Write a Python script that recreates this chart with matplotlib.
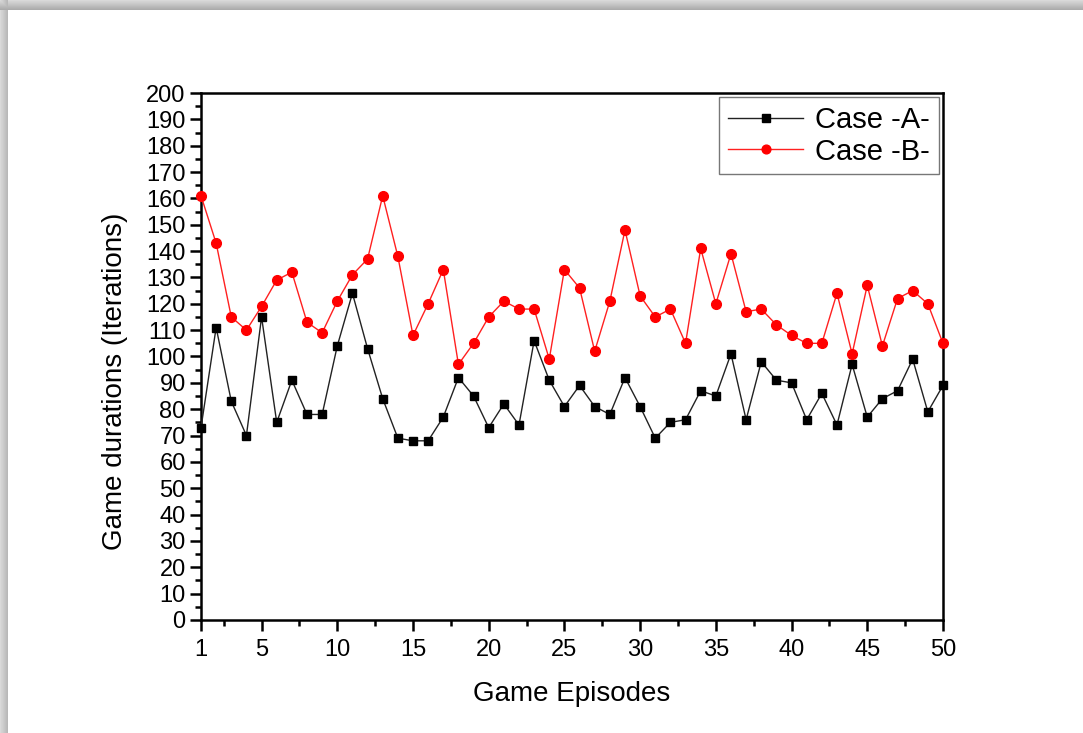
import numpy as np
import matplotlib
matplotlib.use("Agg")
import matplotlib.pyplot as plt
from matplotlib.ticker import MultipleLocator, FixedLocator

episodes = list(range(1, 51))
case_a = [73, 111, 83, 70, 115, 75, 91, 78, 78, 104,
          124, 103, 84, 69, 68, 68, 77, 92, 85, 73,
          82, 74, 106, 91, 81, 89, 81, 78, 92, 81,
          69, 75, 76, 87, 85, 101, 76, 98, 91, 90,
          76, 86, 74, 97, 77, 84, 87, 99, 79, 89]
case_b = [161, 143, 115, 110, 119, 129, 132, 113, 109, 121,
          131, 137, 161, 138, 108, 120, 133, 97, 105, 115,
          121, 118, 118, 99, 133, 126, 102, 121, 148, 123,
          115, 118, 105, 141, 120, 139, 117, 118, 112, 108,
          105, 105, 124, 101, 127, 104, 122, 125, 120, 105]
x_ticks = [1, 5, 10, 15, 20, 25, 30, 35, 40, 45, 50]

plt.rcParams['font.family'] = ['Liberation Sans', 'DejaVu Sans']

fig = plt.figure(figsize=(10.83, 7.33), dpi=100)

# soft drop shadow along the top and left edges of the card
bg = fig.add_axes([0, 0, 1, 1], zorder=-10)
bg.set_axis_off()
H, W = 733, 1083
img = np.ones((H, W))
top = 10
left = 8
for i in range(top):
    img[i, :] = np.minimum(img[i, :], 0.85 - 0.20 * (i / top))
for j in range(left):
    img[:, j] = np.minimum(img[:, j], 0.85 - 0.15 * (j / left))
img[top:, left:] = 1.0
bg.imshow(img, cmap='gray', vmin=0, vmax=1, aspect='auto',
          extent=[0, 1, 0, 1], interpolation='bilinear')
bg.set_xlim(0, 1)
bg.set_ylim(0, 1)

ax = fig.add_axes([0.1856, 0.1542, 0.6851, 0.7189])
ax.plot(episodes, case_a, color='#222222', lw=1.0, marker='s', ms=6,
        mfc='black', mec='black', label='Case -A-', clip_on=False, zorder=3)
ax.plot(episodes, case_b, color='#ff2020', lw=1.0, marker='o', ms=7,
        mfc='red', mec='red', label='Case -B-', clip_on=False, zorder=3)

ax.set_xlim(1, 50)
ax.set_ylim(0, 200)
ax.xaxis.set_major_locator(FixedLocator(x_ticks))
ax.xaxis.set_minor_locator(FixedLocator([2.5 + 5 * k for k in range(10)]))
ax.yaxis.set_major_locator(MultipleLocator(10))
ax.yaxis.set_minor_locator(MultipleLocator(5))

for s in ax.spines.values():
    s.set_linewidth(1.8)
ax.tick_params(which='major', direction='out', length=8, width=1.8,
               labelsize=17, pad=3)
ax.tick_params(axis='x', which='major', pad=6)
ax.tick_params(which='minor', direction='out', length=4, width=1.8)
ax.tick_params(top=False, right=False, which='both')

ax.set_xlabel('Game Episodes', fontsize=20, labelpad=14)
ax.set_ylabel('Game durations (Iterations)', fontsize=20)
ax.yaxis.set_label_coords(-0.098, 0.453)

leg = ax.legend(loc='upper right', prop={'size': 21},
                frameon=True, fancybox=False,
                borderaxespad=0.15, handlelength=2.6, handletextpad=0.4,
                borderpad=0.3, labelspacing=0.12, markerscale=0.9)
leg.get_frame().set_edgecolor('#555555')
leg.get_frame().set_linewidth(1.0)

fig.savefig('out.png', dpi=100)
